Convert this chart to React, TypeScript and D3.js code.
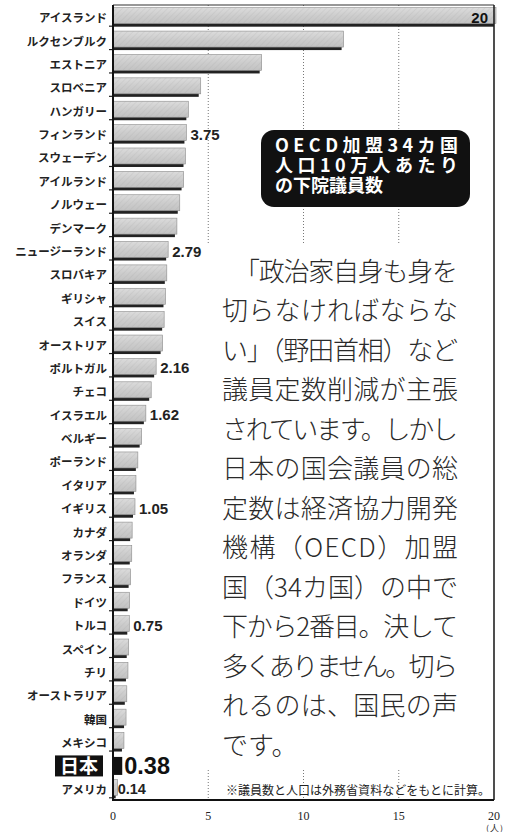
import React from "react";
import * as d3 from "d3";

const countries = [
  "アイスランド", "ルクセンブルク", "エストニア", "スロベニア", "ハンガリー",
  "フィンランド", "スウェーデン", "アイルランド", "ノルウェー", "デンマーク",
  "ニュージーランド", "スロバキア", "ギリシャ", "スイス", "オーストリア",
  "ポルトガル", "チェコ", "イスラエル", "ベルギー", "ポーランド",
  "イタリア", "イギリス", "カナダ", "オランダ", "フランス",
  "ドイツ", "トルコ", "スペイン", "チリ", "オーストラリア",
  "韓国", "メキシコ", "日本", "アメリカ",
];
const values = [
  20, 12.0, 7.7, 4.5, 3.85,
  3.75, 3.7, 3.6, 3.4, 3.25,
  2.79, 2.72, 2.65, 2.58, 2.5,
  2.16, 1.9, 1.62, 1.4, 1.2,
  1.1, 1.05, 0.9, 0.88, 0.82,
  0.77, 0.75, 0.72, 0.68, 0.62,
  0.58, 0.47, 0.38, 0.14,
];
const labeled: Record<string, string> = {
  "フィンランド": "3.75",
  "ニュージーランド": "2.79",
  "ポルトガル": "2.16",
  "イスラエル": "1.62",
  "イギリス": "1.05",
  "トルコ": "0.75",
  "アメリカ": "0.14",
};
const ticks = [0, 5, 10, 15, 20];
const gridTicks = [5, 10, 15];
const titleLines = ["OECD加盟34カ国", "人口10万人あたり", "の下院議員数"];
const bodyLines = [
  "「政治家自身も身を",
  "切らなければならな",
  "い」（野田首相）など",
  "議員定数削減が主張",
  "されています。しかし",
  "日本の国会議員の総",
  "定数は経済協力開発",
  "機構（OECD）加盟",
  "国（34カ国）の中で",
  "下から2番目。決して",
  "多くありません。切ら",
  "れるのは、国民の声",
  "です。",
];
const footnote = "※議員数と人口は外務省資料などをもとに計算。";

const W = 506;
const H = 832;
const JP = "'Noto Sans CJK JP', 'Noto Sans', sans-serif";
const LAT = "'Liberation Sans', Arial, sans-serif";
const SERIF = "'Liberation Serif', 'DejaVu Serif', serif";

export default function App() {
  const x = d3.scaleLinear().domain([0, 20]).range([113, 494]);
  const y = d3.scaleBand<string>().domain(countries).range([6, 801]).padding(0);
  const c = (k: string) => (y(k) as number) + y.bandwidth() / 2;
  const top = 5;
  const bottom = 800;

  return (
    <div style={{ position: "absolute", left: 0, top: 0, width: W, height: H, background: "#fff" }}>
      <svg width={W} height={H} viewBox={`0 0 ${W} ${H}`}>
        <defs>
          <linearGradient id="barg" x1="0" y1="0" x2="0" y2="1">
            <stop offset="0" stopColor="#dcdcdc" />
            <stop offset="0.5" stopColor="#cdcdcd" />
            <stop offset="1" stopColor="#c2c2c2" />
          </linearGradient>
          <pattern id="hatch" width="4" height="4" patternUnits="userSpaceOnUse" patternTransform="rotate(45)">
            <line x1="0" y1="0" x2="0" y2="4" stroke="#999" strokeWidth="1" opacity="0.3" />
          </pattern>
        </defs>
        <rect x={0} y={0} width={W} height={H} fill="#fff" />

        {/* grid lines */}
        {gridTicks.map((t) => (
          <line key={t} x1={x(t)} x2={x(t)} y1={top} y2={bottom} stroke="#777" strokeWidth={1} strokeDasharray="1 2" />
        ))}

        {/* bars */}
        {countries.map((k, i) => {
          const v = values[i];
          const cy = c(k);
          const x0 = x(0);
          const bw = x(v) - x0 + 2;
          const isJapan = k === "日本";
          if (isJapan) {
            return <rect key={k} x={x0} y={cy - 9} width={bw} height={18} fill="#111" />;
          }
          return (
            <g key={k}>
              <rect x={x0} y={cy - 7} width={Math.max(bw - 2, 1)} height={16} fill="#222" />
              <rect x={x0} y={cy - 10} width={bw} height={16} fill="url(#barg)" stroke="#8a8a8a" strokeWidth={0.6} />
              <rect x={x0} y={cy - 10} width={bw} height={16} fill="url(#hatch)" />
              <line x1={x0 - 4} x2={x0} y1={cy + 8.5} y2={cy + 8.5} stroke="#222" strokeWidth={1.2} />
            </g>
          );
        })}

        {/* white panel behind the body text */}
        <rect x={205} y={245} width={287} height={523} fill="#fff" />

        {/* frame */}
        <line x1={x(0)} x2={x(20)} y1={top} y2={top} stroke="#333" strokeWidth={1.2} />
        <line x1={x(20)} x2={x(20)} y1={top} y2={bottom} stroke="#222" strokeWidth={1.6} />
        <line x1={x(0)} x2={x(20)} y1={bottom} y2={bottom} stroke="#111" strokeWidth={2} />
        <line x1={x(0)} x2={x(0)} y1={top} y2={bottom + 1} stroke="#111" strokeWidth={2} />

        {/* country labels */}
        {countries.map((k) => {
          if (k === "日本") return null;
          return (
            <text key={k} x={107} y={c(k) + 4.5} textAnchor="end" fontFamily={JP} fontWeight={700} fontSize={11.5} fill="#222">
              {k}
            </text>
          );
        })}

        {/* Japan highlight */}
        <rect x={55} y={c("日本") - 10.5} width={48} height={21} fill="#111" />
        <text x={79} y={c("日本") + 7} textAnchor="middle" fontFamily={JP} fontWeight={700} fontSize={19} fill="#fff">
          日本
        </text>
        <text x={x(0.38) + 4} y={c("日本") + 8.5} fontFamily={LAT} fontWeight={700} fontSize={23.5} fill="#111">
          0.38
        </text>

        {/* value labels */}
        {countries.map((k, i) => {
          const lab = labeled[k];
          if (!lab) return null;
          const isUS = k === "アメリカ";
          return (
            <text key={k} x={x(values[i]) + (isUS ? 2 : 6)} y={c(k) + 5} fontFamily={LAT} fontWeight={700} fontSize={isUS ? 14.5 : 15} fill="#222">
              {lab}
            </text>
          );
        })}
        <text x={488} y={c("アイスランド") + 5} textAnchor="end" fontFamily={LAT} fontWeight={700} fontSize={15} fill="#111">
          20
        </text>

        {/* title box */}
        <rect x={261} y={130} width={209} height={77} rx={13} ry={13} fill="#111" />
        <text fontFamily={JP} fontWeight={700} fontSize={18} fill="#fff">
          {titleLines.map((t, i) => (
            <tspan
              key={t}
              x={275}
              y={145 + i * 20 + 6.5}
              {...(i < 2 ? { textLength: 183, lengthAdjust: "spacing" } : {})}
            >
              {t}
            </tspan>
          ))}
        </text>

        {/* body text */}
        {bodyLines.map((t, i) => {
          const cy = 271 + i * 39.5;
          const x0 = i === 0 ? 234 : 222;
          const justify = i < bodyLines.length - 1;
          return (
            <text
              key={i}
              x={x0}
              y={cy + 9.5}
              fontFamily={JP}
              fontWeight={300}
              fontSize={26}
              fill="#2a2a2a"
              {...(justify ? { textLength: 458 - x0, lengthAdjust: "spacing" } : {})}
            >
              {t}
            </text>
          );
        })}

        {/* footnote */}
        <text x={226} y={795} fontFamily={JP} fontSize={12} fill="#222" textLength={264} lengthAdjust="spacing">
          {footnote}
        </text>

        {/* axis tick labels */}
        {ticks.map((t) => (
          <text key={t} x={x(t)} y={820} textAnchor="middle" fontFamily={SERIF} fontSize={12} fill="#222">
            {t}
          </text>
        ))}
        <text x={x(20)} y={831} textAnchor="middle" fontFamily={SERIF} fontSize={9} fill="#222">
          （人）
        </text>
      </svg>
    </div>
  );
}
